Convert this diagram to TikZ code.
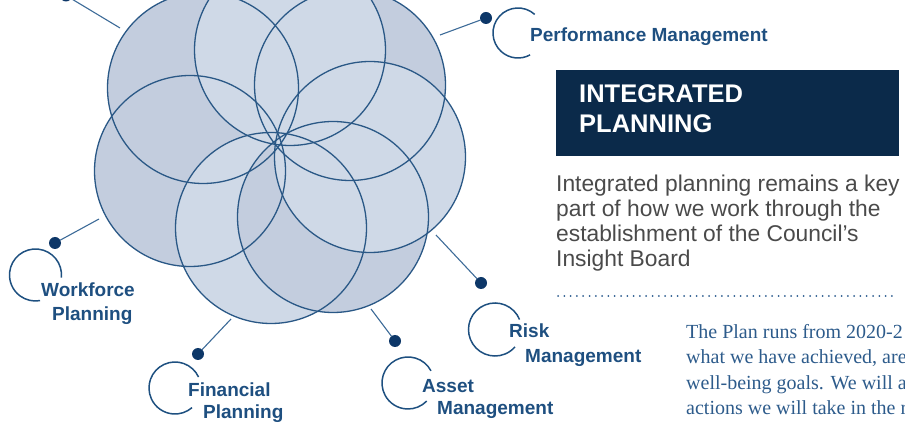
\documentclass[tikz,border=0pt]{standalone}
\usepackage{fontspec}
\setmainfont{Liberation Sans}
\newfontfamily\planserif{Liberation Serif}
\usetikzlibrary{calc}
\definecolor{navybox}{HTML}{0B2A4A}
\definecolor{petaldark}{HTML}{C3CDDE}
\definecolor{petallight}{HTML}{CFD9E7}
\definecolor{ringc}{HTML}{2A5886}
\definecolor{leadc}{HTML}{3D6B98}
\definecolor{dotc}{HTML}{0D3768}
\definecolor{arcc}{HTML}{1E5080}
\definecolor{lblc}{HTML}{1E4F80}
\definecolor{bodygrey}{HTML}{4A4A4A}
\definecolor{serifblue}{HTML}{2D5B8B}
\definecolor{dotlinec}{HTML}{2B5C8E}
\tikzset{
  petal/.style={circle, minimum size=191pt, inner sep=0pt, outer sep=0pt},
  petaledge/.style={draw=ringc, line width=1.3pt},
  lead/.style={draw=leadc, line width=1.1pt},
  bullet/.style={circle, fill=dotc, minimum size=12pt, inner sep=0pt, outer sep=0pt},
  ringarc/.style={draw=arcc, line width=1.5pt},
  lbl/.style={anchor=base west, inner sep=0pt, text=lblc, font=\fontsize{19}{22}\selectfont\bfseries},
  titletext/.style={anchor=base west, inner sep=0pt, text=white, font=\fontsize{25.5}{30}\selectfont\bfseries},
  bodytext/.style={anchor=base west, inner sep=0pt, text=bodygrey, font=\fontsize{22.8}{25}\selectfont},
  seriftext/.style={anchor=base west, inner sep=0pt, text=serifblue, font=\planserif\fontsize{20}{25}\selectfont},
  dotline/.style={draw=dotlinec, line width=2pt, line cap=round, dash pattern=on 0pt off 6.3pt}
}
\begin{document}
\begin{tikzpicture}[x=1pt,y=-1pt]
\useasboundingbox (0,0) rectangle (905,427);
\clip (0,0) rectangle (905,427);

% petals (fills)
\node[petal, fill=petaldark]  (p1) at (190,171) {};
\node[petal, fill=petaldark]  (p2) at (203,88) {};
\node[petal, fill=petaldark]  (p4) at (350,85) {};
\node[petal, fill=petallight] (p3) at (290,50) {};
\node[petal, fill=petallight] (p7) at (271,228) {};
\node[petal, fill=petaldark]  (p6) at (333,217) {};
\node[petal, fill=petallight] (p5) at (370,157) {};
% petal outlines
\foreach \p in {p1,p2,p3,p4,p5,p6,p7}
  \draw[petaledge] (\p.center) circle[radius=95.5pt];

% leads and bullets
\node[bullet] (bTop)  at (66,-4.5) {};
\coordinate (eTop) at (120,28);
\draw[lead] (bTop) -- (eTop);

\node[bullet] (bPerf) at (486,18) {};
\coordinate (ePerf) at (440,35);
\draw[lead] (bPerf) -- (ePerf);

\node[bullet] (bWork) at (55,243) {};
\coordinate (eWork) at (99,219);
\draw[lead] (bWork) -- (eWork);

\node[bullet] (bFin) at (198,354) {};
\coordinate (eFin) at (231,319);
\draw[lead] (bFin) -- (eFin);

\node[bullet] (bAsset) at (395,341) {};
\coordinate (eAsset) at (371,309);
\draw[lead] (bAsset) -- (eAsset);

\node[bullet] (bRisk) at (481,283) {};
\coordinate (eRisk) at (436,235);
\draw[lead] (bRisk) -- (eRisk);

% open rings
\coordinate (rPerf) at (518,33);
\draw[ringarc] (rPerf) ++(48:25pt) arc[start angle=48, end angle=299, radius=25pt];
\coordinate (rWork) at (35.5,275);
\draw[ringarc] (rWork) ++(-6:26pt) arc[start angle=-6, end angle=280, radius=26pt];
\coordinate (rFin) at (175,388);
\draw[ringarc] (rFin) ++(25:26pt) arc[start angle=25, end angle=311, radius=26pt];
\coordinate (rAsset) at (408,383);
\draw[ringarc] (rAsset) ++(28:26pt) arc[start angle=28, end angle=316, radius=26pt];
\coordinate (rRisk) at (495,329.5);
\draw[ringarc] (rRisk) ++(22:26.5pt) arc[start angle=22, end angle=319, radius=26.5pt];

% labels
\node[lbl] (tPerf) at (530,42) {Performance Management};
\node[lbl] (tWork1) at (41,297) {Workforce};
\node[lbl] (tWork2) at (52,321) {Planning};
\node[lbl] (tFin1) at (188,397) {Financial};
\node[lbl] (tFin2) at (203,418) {Planning};
\node[lbl] (tAsset1) at (422,392) {Asset};
\node[lbl] (tAsset2) at (437,415) {Management};
\node[lbl] (tRisk1) at (509,338) {Risk};
\node[lbl] (tRisk2) at (525,363) {Management};

% title box
\node[fill=navybox, anchor=north west, minimum width=343pt, minimum height=86pt, inner sep=0pt] (tbox) at (556,70) {};
\node[titletext] (title1) at (579,103) {INTEGRATED};
\node[titletext] (title2) at (579,133) {PLANNING};

% body text
\node[bodytext] (body1) at (556,192) {Integrated planning remains a key};
\node[bodytext] (body2) at (556,217) {part of how we work through the};
\node[bodytext] (body3) at (556,242) {establishment of the Council’s};
\node[bodytext] (body4) at (556,267) {Insight Board};

% dotted rule
\coordinate (dl1) at (558,296);
\coordinate (dl2) at (893,296);
\draw[dotline] (dl1) -- (dl2);

% serif text (cut at the right edge, as in the reference)
\node[seriftext] (plan1) at (686,339) {The Plan runs from 2020-2};
\node[seriftext] (plan2) at (686,364) {what we have achieved, are};
\node[seriftext] (plan3) at (686,390) {well-being goals. We will a};
\node[seriftext] (plan4) at (686,415) {actions we will take in the r};
\end{tikzpicture}
\end{document}
